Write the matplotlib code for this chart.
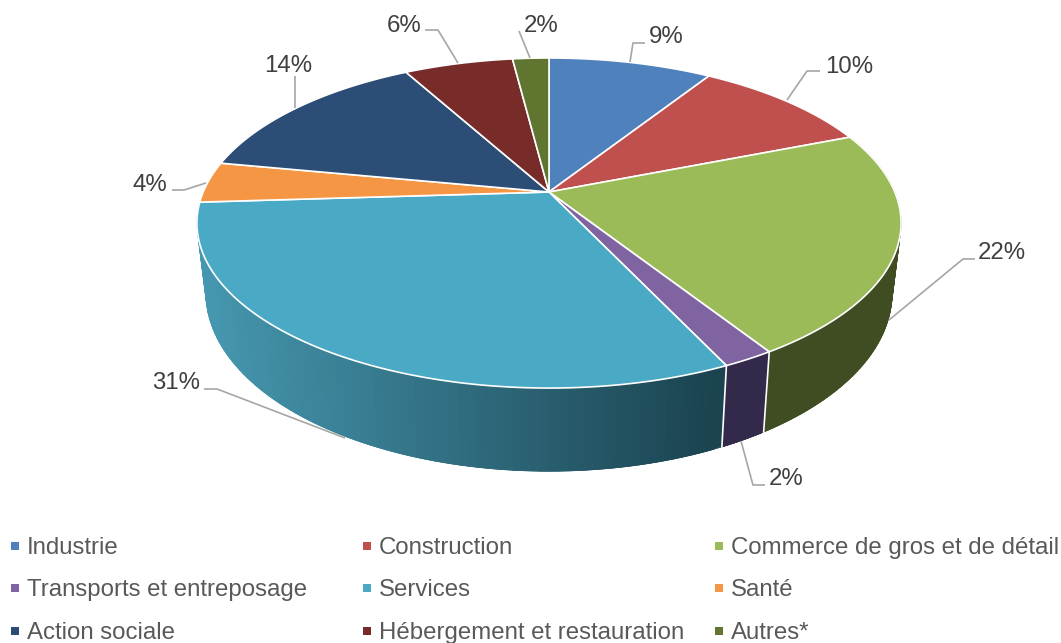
import numpy as np
import matplotlib
matplotlib.use('Agg')
import matplotlib.pyplot as plt

categories = ['Industrie', 'Construction', 'Commerce de gros et de détail',
              'Transports et entreposage', 'Services', 'Santé',
              'Action sociale', 'Hébergement et restauration', 'Autres*']
shares = [9, 10, 22, 2, 31, 4, 14, 6, 2]
colors = ['#4f81bd', '#c0504d', '#9bbb59', '#8064a2', '#4aa9c4', '#f59645',
          '#2c4d75', '#772c2a', '#5f7530']
# only the three slices at the front show their side
wall_left = {2: '#404c22', 3: '#33294a', 4: '#4698b1'}
wall_right = {2: '#404c22', 3: '#33294a', 4: '#1a424e'}

plt.rcParams['font.family'] = ['Liberation Sans', 'DejaVu Sans']

fig = plt.figure(figsize=(10.61, 6.43), dpi=100)
ax = fig.add_axes([0, 0, 1, 1])
ax.set_xlim(0, 1061)
ax.set_ylim(643, 0)
ax.axis('off')


# circle seen in perspective, theta runs clockwise from the top
def top_rim(theta):
    x, y = np.sin(theta), -np.cos(theta)
    d = 1 - 0.188 * y
    return 549 + 345.8 * x / d, 192 + 159.2 * y / d


def bottom_rim(theta):
    x, y = np.sin(theta), -np.cos(theta)
    d = 1 - 0.188 * y
    return 549 + 337 * x / d, 259.4 + 172 * y / d


edges = np.cumsum([0] + shares) / sum(shares) * 2 * np.pi

# side wall first, the top goes over it
for i in wall_left:
    t = np.linspace(edges[i], edges[i + 1], 90)
    xt, yt = top_rim(t)
    xb, yb = bottom_rim(t)
    c_left = np.array(matplotlib.colors.to_rgb(wall_left[i]))
    c_right = np.array(matplotlib.colors.to_rgb(wall_right[i]))
    # go from the far end so each strip overlaps the next, no seams
    for j in range(len(t) - 2, -1, -1):
        k = min(j + 2, len(t) - 1)
        f = np.clip(((xt[j] + xt[k]) / 2 - 198) / (727 - 198), 0, 1)
        c = c_left + (c_right - c_left) * f
        ax.fill([xt[j], xt[k], xb[k], xb[j]],
                [yt[j], yt[k], yb[k], yb[j]],
                color=c, lw=0.5, zorder=1)
    if i != 4:
        ax.plot([xt[-1], xb[-1]], [yt[-1], yb[-1]], color='white', lw=1.2, zorder=1.5)

# top surface
for i in range(len(shares)):
    t = np.linspace(edges[i], edges[i + 1], 120)
    xt, yt = top_rim(t)
    ax.fill(np.r_[549, xt], np.r_[192, yt], facecolor=colors[i],
            edgecolor='white', lw=1.2, joinstyle='round', zorder=2)

# labels with their leader lines, y is the text baseline
label_pos = [(666, 43), (849, 73), (1002, 259), (786, 485), (176, 389),
             (150, 191), (288, 72), (404, 32), (541, 32)]
leaders = [[(630, 62), (633, 43), (645, 43)],
           [(787, 100), (807, 71), (820, 71)],
           [(889, 320), (963, 259), (975, 259)],
           [(741, 441), (753, 485), (765, 485)],
           [(345, 438), (217, 389), (204, 389)],
           [(206, 183), (184, 190), (172, 190)],
           [(295, 108), (295, 76)],
           [(458, 63), (438, 30), (425, 30)],
           [(530, 58), (519, 31)]]
for i in range(len(shares)):
    px, py = zip(*leaders[i])
    ax.plot(px, py, color='#a6a6a6', lw=1.2, solid_capstyle='butt', zorder=3)
    ax.text(label_pos[i][0], label_pos[i][1], f'{shares[i]}%', color='#404040',
            fontsize=17.3, ha='center', va='baseline', zorder=4)

# legend, three columns
col_x = [27, 379, 731]
row_y = [554, 596, 639]
for i, name in enumerate(categories):
    lx, ly = col_x[i % 3], row_y[i // 3]
    ax.plot([lx - 12], [ly - 8], 's', color=colors[i], ms=5.3, mew=0)
    ax.text(lx, ly, name, color='#595959', fontsize=17.3, ha='left', va='baseline')

fig.savefig('out.png', dpi=100)
